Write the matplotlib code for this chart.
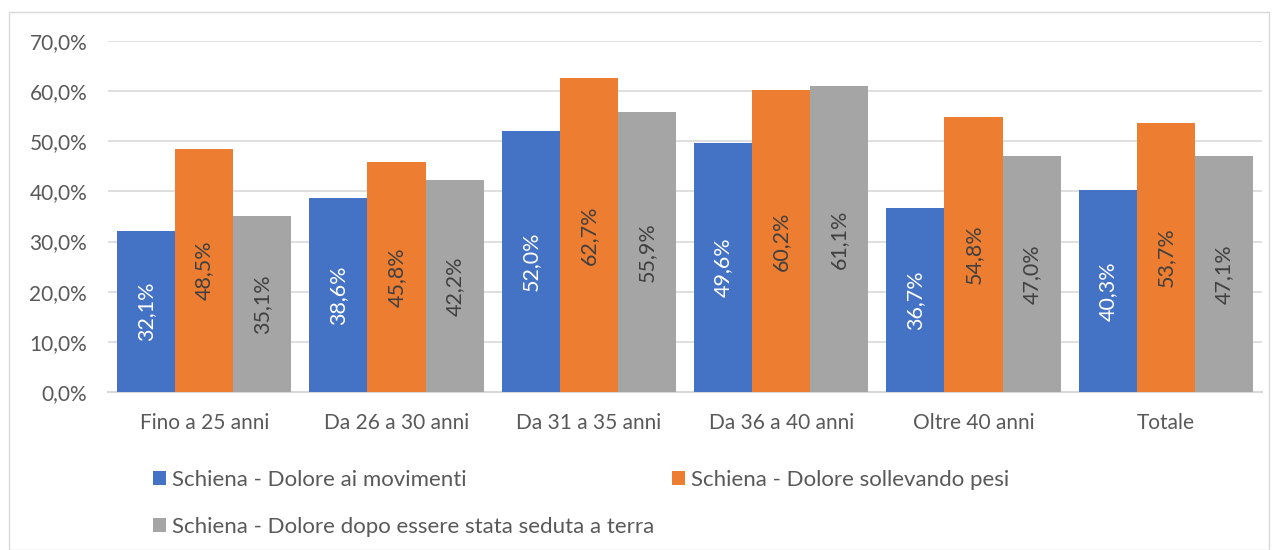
import matplotlib.pyplot as plt
import numpy as np
from matplotlib.patches import Rectangle

categories = ["Fino a 25 anni", "Da 26 a 30 anni", "Da 31 a 35 anni",
              "Da 36 a 40 anni", "Oltre 40 anni", "Totale"]
movimenti = [32.1, 38.6, 52.0, 49.6, 36.7, 40.3]
pesi = [48.5, 45.8, 62.7, 60.2, 54.8, 53.7]
seduta = [35.1, 42.2, 55.9, 61.1, 47.0, 47.1]
series_names = ["Schiena - Dolore ai movimenti",
                "Schiena - Dolore sollevando pesi",
                "Schiena - Dolore dopo essere stata seduta a terra"]

colors = ["#4472C4", "#ED7D31", "#A5A5A5"]
label_colors = ["white", "#404040", "#404040"]
txt = "#595959"

plt.rcParams['font.family'] = ['Lato', 'DejaVu Sans']

fig = plt.figure(figsize=(12.78, 5.5), dpi=100)
ax = fig.add_axes([108 / 1278, 1 - 392 / 550, (1262 - 108) / 1278, (392 - 41) / 550])

# chart border
fig.patches.append(Rectangle((9 / 1278, 0.0), 1260 / 1278, 1 - 12 / 550,
                             transform=fig.transFigure, fill=False,
                             edgecolor="#d9d9d9", linewidth=1))

x = np.arange(len(categories))
w = 0.302
for i, vals in enumerate([movimenti, pesi, seduta]):
    pos = x + (i - 1) * w
    ax.bar(pos, vals, width=w, color=colors[i], label=series_names[i], zorder=3)
    for p, v in zip(pos, vals):
        ax.text(p, v / 2, f"{v:.1f}%".replace(".", ","), rotation=90,
                ha="center", va="center", color=label_colors[i], fontsize=15.5, zorder=4)

ax.set_xlim(-0.5, len(categories) - 0.5)
ax.set_ylim(0, 70)
ax.set_yticks(np.arange(0, 71, 10))
ax.set_yticklabels([f"{t:.1f}%".replace(".", ",") for t in np.arange(0, 71, 10)])
ax.set_xticks(x)
ax.set_xticklabels(categories)
ax.tick_params(axis="both", length=0, labelsize=15, colors=txt)
ax.tick_params(axis="y", pad=15)
ax.tick_params(axis="x", pad=15)
ax.grid(axis="y", color="#d9d9d9", linewidth=1.2, zorder=0)
for s in ["top", "right", "left"]:
    ax.spines[s].set_visible(False)
ax.spines["bottom"].set_color("#d9d9d9")
ax.spines["bottom"].set_linewidth(1.5)

handles, labels = ax.get_legend_handles_labels()
order = [0, 2, 1]
leg = fig.legend([handles[k] for k in order], [labels[k] for k in order],
                 loc="upper left", bbox_to_anchor=(133 / 1278, 1 - 450 / 550),
                 ncol=2, frameon=False, fontsize=16, labelcolor=txt,
                 handlelength=0.6, handleheight=0.6, handletextpad=0.25,
                 columnspacing=0.8, labelspacing=1.2)

fig.savefig("out.png", dpi=100)
